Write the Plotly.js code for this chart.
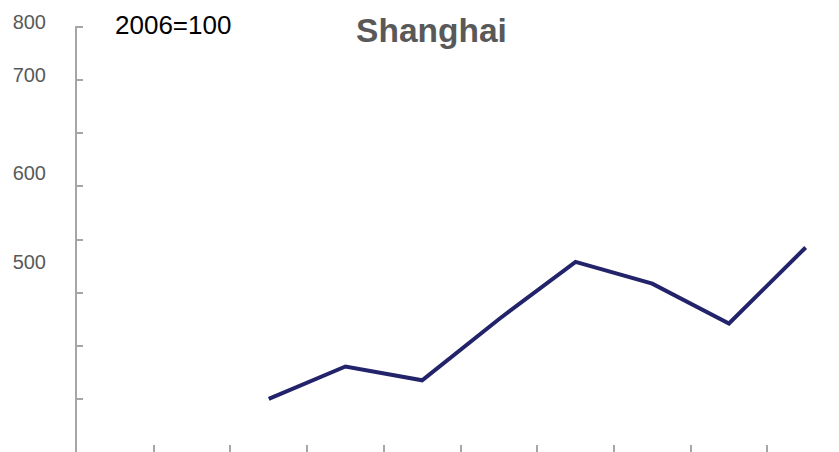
<!DOCTYPE html>
<html>
<head>
<meta charset="utf-8">
<script src="https://cdn.plot.ly/plotly-3.0.1.min.js"></script>
<style>html,body{margin:0;padding:0;background:#fff;}#chart{width:839px;height:452px;}</style>
</head>
<body>
<div id="chart"></div>
<script>
// Data (index, 2006 = 100)
const years = [2004, 2005, 2006, 2007, 2008, 2009, 2010, 2011, 2012, 2013];
const shanghai = [null, null, 100, 161, 135, 250, 358, 317, 242, 385];
const yTickLabels = ['800', '700', '600', '500'];
const yTickLabelPos = [800, 700, 516, 349];
const yMarks = [0, 100, 200, 300, 400, 500, 600, 700, 800];

const boundaries = years.slice(0, -1).map(y => y + 0.5);

const trace = {
  x: years, y: shanghai, type: 'scatter', mode: 'lines',
  line: {color: '#23236b', width: 4},
  connectgaps: false, hoverinfo: 'skip', showlegend: false
};
const labelTrace = {
  x: [years[0]], y: [null], yaxis: 'y2', type: 'scatter', mode: 'lines',
  showlegend: false, hoverinfo: 'skip'
};

const layout = {
  width: 839, height: 452,
  margin: {l: 77, r: 0, t: 26, b: 0, pad: 0},
  paper_bgcolor: '#ffffff', plot_bgcolor: '#ffffff',
  font: {family: 'Liberation Sans, Arial, sans-serif'},
  title: {
    text: '<b>Shanghai</b>',
    font: {size: 33.5, color: '#595959', family: 'Liberation Sans, Arial, sans-serif'},
    x: 431.5 / 839, xanchor: 'center', xref: 'container',
    y: 1 - 30 / 452, yanchor: 'middle', yref: 'container'
  },
  xaxis: {
    type: 'linear', range: [years[0] - 0.5, years[0] - 0.5 + 762 / 76.7],
    showgrid: false, zeroline: false, showline: false,
    tickmode: 'array', tickvals: boundaries, ticks: 'inside', ticklen: 7,
    tickwidth: 2, tickcolor: '#a6a6a6', showticklabels: false
  },
  yaxis: {
    range: [0, 802], showgrid: false, zeroline: false,
    showline: true, linecolor: '#a6a6a6', linewidth: 2,
    tickmode: 'array', tickvals: yMarks, ticks: 'inside', ticklen: 6,
    tickwidth: 2, tickcolor: '#a6a6a6', showticklabels: false
  },
  yaxis2: {
    range: [0, 802], overlaying: 'y', side: 'left', showgrid: false,
    zeroline: false, showline: false, ticks: '',
    tickmode: 'array', tickvals: yTickLabelPos, ticktext: yTickLabels,
    tickfont: {size: 20, color: '#595959'}, ticklabelstandoff: 30,
    ticklabelshift: -5
  },
  annotations: [{
    text: '2006=100', showarrow: false,
    xref: 'paper', yref: 'paper',
    x: (172.5 - 77) / 762, y: (452 - 25) / 426,
    xanchor: 'center', yanchor: 'middle',
    font: {size: 26, color: '#000000'}
  }]
};

Plotly.newPlot('chart', [trace, labelTrace], layout, {staticPlot: true, displayModeBar: false});
</script>
</body>
</html>
